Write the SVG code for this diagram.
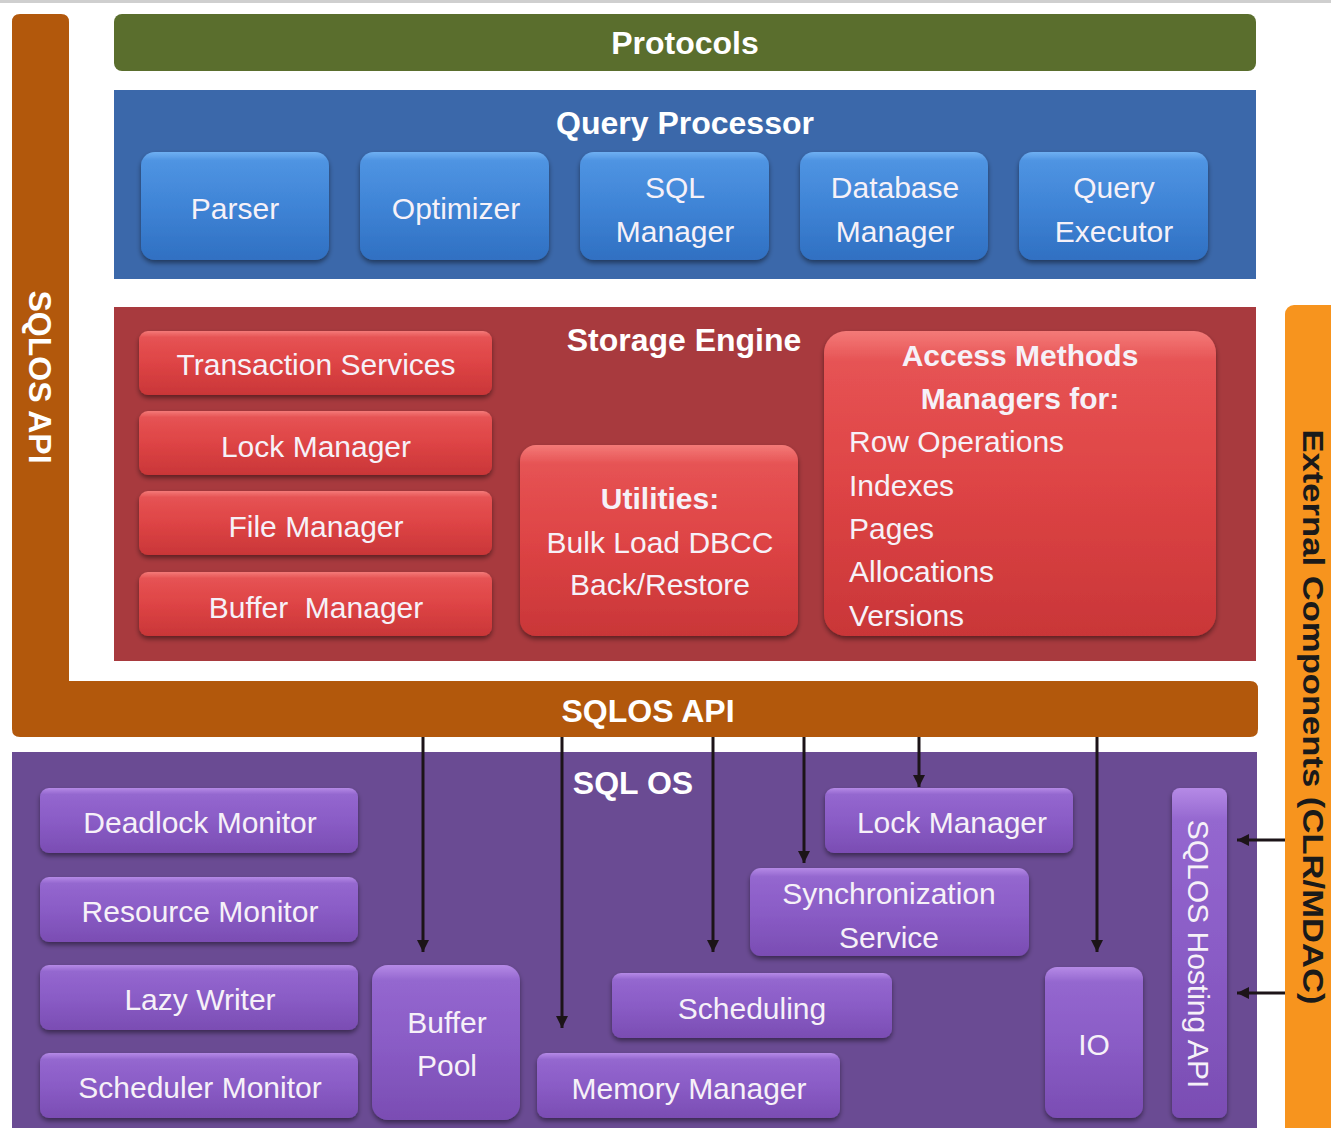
<svg xmlns="http://www.w3.org/2000/svg" width="1331" height="1128" viewBox="0 0 1331 1128">
  <defs>
    <style>
      text { font-family: "Liberation Sans", Arial, sans-serif; fill: #f6f1f8; }
      .title { font-weight: bold; font-size: 32px; text-anchor: middle; dominant-baseline: central; fill: #ffffff; }
      .lbl { font-size: 30px; text-anchor: middle; dominant-baseline: central; }
      .lbl-l { font-size: 30px; dominant-baseline: central; }
      .bold { font-weight: bold; }
      .qbtn { fill: url(#gBlue); filter: url(#shadow); }
      .rbtn { fill: url(#gRed); filter: url(#shadow); }
      .pbtn { fill: url(#gPurple); filter: url(#shadow); }
      .link { stroke: #1c1418; stroke-width: 3; fill: none; marker-end: url(#head); }
    </style>
    <linearGradient id="gBlue" x1="0" y1="0" x2="0" y2="1">
      <stop offset="0" stop-color="#6fb0f2"/>
      <stop offset="0.08" stop-color="#4f94e2"/>
      <stop offset="0.5" stop-color="#3f84d6"/>
      <stop offset="1" stop-color="#3070c2"/>
    </linearGradient>
    <linearGradient id="gRed" x1="0" y1="0" x2="0" y2="1">
      <stop offset="0" stop-color="#f47a78"/>
      <stop offset="0.1" stop-color="#e65354"/>
      <stop offset="0.5" stop-color="#de4445"/>
      <stop offset="1" stop-color="#c93638"/>
    </linearGradient>
    <linearGradient id="gPurple" x1="0" y1="0" x2="0" y2="1">
      <stop offset="0" stop-color="#b58ae6"/>
      <stop offset="0.1" stop-color="#9467cf"/>
      <stop offset="0.5" stop-color="#8a5cc6"/>
      <stop offset="1" stop-color="#7a4db3"/>
    </linearGradient>
    <filter id="shadow" x="-10%" y="-10%" width="120%" height="130%">
      <feDropShadow dx="0" dy="3" stdDeviation="2.5" flood-color="#000000" flood-opacity="0.45"/>
    </filter>
    <marker id="head" markerUnits="userSpaceOnUse" markerWidth="14" markerHeight="14" refX="12" refY="7" orient="auto">
      <path d="M0,1 L12,7 L0,13 Z" fill="#1c1418"/>
    </marker>
  </defs>

  <rect width="1331" height="1128" fill="#ffffff"/>
  <rect x="0" y="0" width="1331" height="3" fill="#cfcfcf"/>

  <!-- SQLOS API: L-shaped band on the left and across the middle -->
  <g id="sqlos-api">
    <path d="M12,22 Q12,14 20,14 H61 Q69,14 69,22 V681 H1250 Q1258,681 1258,689 V729 Q1258,737 1250,737 H20 Q12,737 12,729 Z" fill="#b2580c"/>
    <text class="title" transform="translate(29,377) rotate(90)" style="dominant-baseline:alphabetic">SQLOS API</text>
    <text class="title" x="648" y="711">SQLOS API</text>
  </g>

  <!-- Protocols -->
  <g id="protocols">
    <rect x="114" y="14" width="1142" height="57" rx="8" fill="#5a6e2d"/>
    <text class="title" x="685" y="43">Protocols</text>
  </g>

  <!-- Query Processor -->
  <g id="query-processor">
    <rect x="114" y="90" width="1142" height="189" fill="#3b68aa"/>
    <text class="title" x="685" y="123">Query Processor</text>
  </g>
  <g id="parser">
    <rect class="qbtn" x="141" y="152" width="188" height="108" rx="14"/>
    <text class="lbl" x="235" y="208">Parser</text>
  </g>
  <g id="optimizer">
    <rect class="qbtn" x="360" y="152" width="189" height="108" rx="14"/>
    <text class="lbl" x="456" y="208">Optimizer</text>
  </g>
  <g id="sql-manager">
    <rect class="qbtn" x="580" y="152" width="189" height="108" rx="14"/>
    <text class="lbl" x="675" y="187">SQL</text>
    <text class="lbl" x="675" y="231">Manager</text>
  </g>
  <g id="database-manager">
    <rect class="qbtn" x="800" y="152" width="188" height="108" rx="14"/>
    <text class="lbl" x="895" y="187">Database</text>
    <text class="lbl" x="895" y="231">Manager</text>
  </g>
  <g id="query-executor">
    <rect class="qbtn" x="1019" y="152" width="189" height="108" rx="14"/>
    <text class="lbl" x="1114" y="187">Query</text>
    <text class="lbl" x="1114" y="231">Executor</text>
  </g>

  <!-- Storage Engine -->
  <g id="storage-engine">
    <rect x="114" y="307" width="1142" height="354" fill="#a83a3e"/>
    <text class="title" x="684" y="340">Storage Engine</text>
  </g>
  <g id="transaction-services">
    <rect class="rbtn" x="139" y="331" width="353" height="64" rx="9"/>
    <text class="lbl" x="316" y="364">Transaction Services</text>
  </g>
  <g id="se-lock-manager">
    <rect class="rbtn" x="139" y="411" width="353" height="64" rx="9"/>
    <text class="lbl" x="316" y="446">Lock Manager</text>
  </g>
  <g id="file-manager">
    <rect class="rbtn" x="139" y="491" width="353" height="64" rx="9"/>
    <text class="lbl" x="316" y="526">File Manager</text>
  </g>
  <g id="buffer-manager">
    <rect class="rbtn" x="139" y="572" width="353" height="64" rx="9"/>
    <text class="lbl" x="316" y="607" style="white-space:pre">Buffer  Manager</text>
  </g>
  <g id="utilities">
    <rect class="rbtn" x="520" y="445" width="278" height="191" rx="16"/>
    <text class="lbl bold" x="660" y="498">Utilities:</text>
    <text class="lbl" x="660" y="542">Bulk Load DBCC</text>
    <text class="lbl" x="660" y="584">Back/Restore</text>
  </g>
  <g id="access-methods">
    <rect class="rbtn" x="824" y="331" width="392" height="305" rx="22"/>
    <text class="lbl bold" x="1020" y="355">Access Methods</text>
    <text class="lbl bold" x="1020" y="398">Managers for:</text>
    <text class="lbl-l" x="849" y="441">Row Operations</text>
    <text class="lbl-l" x="849" y="485">Indexes</text>
    <text class="lbl-l" x="849" y="528">Pages</text>
    <text class="lbl-l" x="849" y="571">Allocations</text>
    <text class="lbl-l" x="849" y="615">Versions</text>
  </g>

  <!-- External components band on the right -->
  <g id="external-components">
    <rect x="1285" y="305" width="60" height="840" rx="9" fill="#f7941e"/>
    <text transform="translate(1303,717) rotate(90)" text-anchor="middle" font-size="30" font-weight="bold" textLength="575" lengthAdjust="spacingAndGlyphs" style="fill:#1a1a1a">External Components (CLR/MDAC)</text>
  </g>

  <!-- SQL OS -->
  <g id="sql-os">
    <rect x="12" y="752" width="1245" height="390" fill="#6a4b93"/>
    <text class="title" x="633" y="783">SQL OS</text>
  </g>
  <g id="deadlock-monitor">
    <rect class="pbtn" x="40" y="788" width="318" height="65" rx="9"/>
    <text class="lbl" x="200" y="822" font-size="32">Deadlock Monitor</text>
  </g>
  <g id="resource-monitor">
    <rect class="pbtn" x="40" y="877" width="318" height="65" rx="9"/>
    <text class="lbl" x="200" y="911" font-size="32">Resource Monitor</text>
  </g>
  <g id="lazy-writer">
    <rect class="pbtn" x="40" y="965" width="318" height="65" rx="9"/>
    <text class="lbl" x="200" y="999" font-size="32">Lazy Writer</text>
  </g>
  <g id="scheduler-monitor">
    <rect class="pbtn" x="40" y="1053" width="318" height="65" rx="9"/>
    <text class="lbl" x="200" y="1087" font-size="32">Scheduler Monitor</text>
  </g>
  <g id="buffer-pool">
    <rect class="pbtn" x="372" y="965" width="148" height="155" rx="16"/>
    <text class="lbl" x="447" y="1022" font-size="32">Buffer</text>
    <text class="lbl" x="447" y="1065" font-size="32">Pool</text>
  </g>
  <g id="memory-manager">
    <rect class="pbtn" x="537" y="1053" width="303" height="65" rx="9"/>
    <text class="lbl" x="689" y="1088" font-size="32">Memory Manager</text>
  </g>
  <g id="scheduling">
    <rect class="pbtn" x="612" y="973" width="280" height="65" rx="9"/>
    <text class="lbl" x="752" y="1008" font-size="32">Scheduling</text>
  </g>
  <g id="synchronization-service">
    <rect class="pbtn" x="750" y="868" width="279" height="88" rx="11"/>
    <text class="lbl" x="889" y="893" font-size="32">Synchronization</text>
    <text class="lbl" x="889" y="937" font-size="32">Service</text>
  </g>
  <g id="os-lock-manager">
    <rect class="pbtn" x="825" y="788" width="248" height="65" rx="9"/>
    <text class="lbl" x="952" y="822" font-size="32">Lock Manager</text>
  </g>
  <g id="io">
    <rect class="pbtn" x="1045" y="967" width="98" height="151" rx="12"/>
    <text class="lbl" x="1094" y="1044" font-size="32">IO</text>
  </g>
  <g id="sqlos-hosting-api">
    <rect class="pbtn" x="1172" y="788" width="55" height="330" rx="8"/>
    <text transform="translate(1188,954) rotate(90)" text-anchor="middle" font-size="30">SQLOS Hosting API</text>
  </g>

  <!-- Connectors -->
  <g id="connectors">
    <path class="link" d="M423,737 V952"/>
    <path class="link" d="M562,737 V1028"/>
    <path class="link" d="M713,737 V952"/>
    <path class="link" d="M804,737 V863"/>
    <path class="link" d="M919,737 V787"/>
    <path class="link" d="M1097,737 V952"/>
    <path class="link" d="M1285,840 H1237"/>
    <path class="link" d="M1285,993 H1237"/>
  </g>
</svg>
